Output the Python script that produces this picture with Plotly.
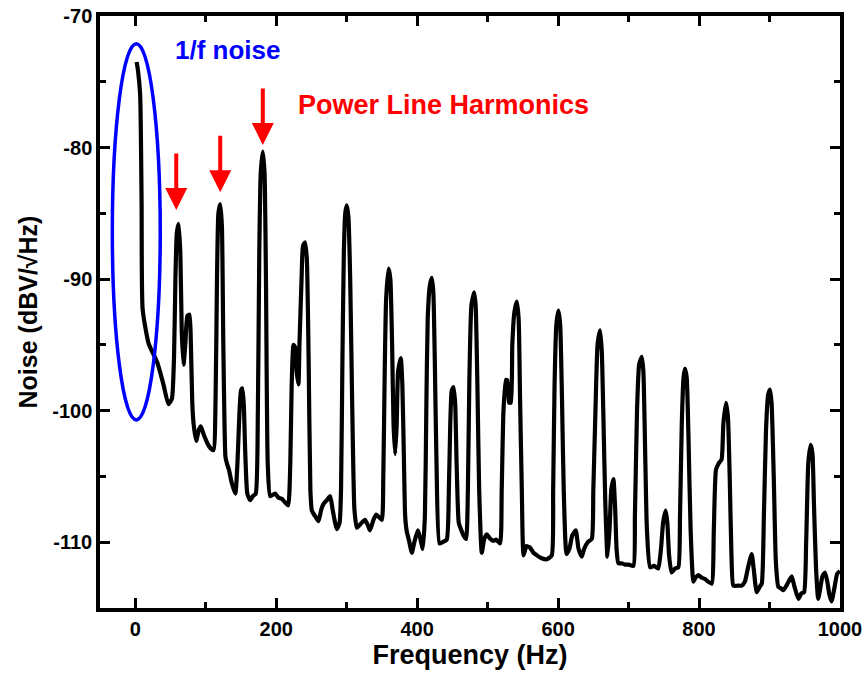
import plotly.graph_objects as go

freq = [2, 4, 7, 9, 10.5, 19, 31, 40, 47, 52, 55, 57, 59, 61.5, 64, 66, 68.5, 71, 74, 77, 79, 81, 83,
        86.5, 90, 93, 97, 101.7, 106, 111, 114, 116, 118, 120.6, 123, 125, 128, 130, 133, 137, 142,
        145, 148, 150, 152, 154, 156, 159, 163, 167, 171, 174, 176, 178, 181, 183.5, 185.5, 188, 191.5,
        198.6, 203, 208, 213, 217, 220, 222, 224.6, 227, 229, 231.6, 233, 236, 238, 241, 243.5, 246,
        248.5, 250.6, 255, 260, 264, 267, 272, 276.6, 280, 286, 290, 292, 294, 296, 298, 300.2, 302.5,
        305, 308, 311, 314.4, 320, 326, 330, 333, 338, 342, 346, 350, 352, 354, 356, 359.5, 362, 364.5,
        366.5, 368.8, 371, 373, 376.8, 379, 381, 383, 385, 389, 392.5, 396, 401, 404, 408, 411, 413,
        415, 418, 420.8, 423, 425, 427.5, 431.7, 436, 442, 445, 447, 449, 451.5, 454, 456, 459, 462,
        466, 469.5, 472, 474, 477, 480.9, 483, 485.5, 488, 491.7, 495, 498.8, 503, 508, 512, 517.7,
        520, 522.5, 526, 528, 530.5, 532.9, 535, 538, 541.4, 544, 546, 548.5, 551, 555, 560, 565, 570,
        576, 584, 591, 593, 595, 597.5, 600.5, 603, 605.5, 608, 612, 616, 620, 625, 629, 633.6, 637,
        642, 647.8, 650, 653, 656, 659.6, 662, 664.5, 667, 670, 673, 675.5, 678.5, 681, 683, 685.5,
        690, 695, 700, 706.9, 709, 712, 715, 718.7, 721, 723.5, 726, 730.5, 736, 742, 746, 749, 752.7,
        755, 757.5, 761, 766, 770.6, 773, 775.5, 778, 780, 782.5, 785, 788, 792, 795, 799, 804, 808.5,
        813, 818, 821, 824, 828, 832, 834.5, 838.3, 841, 843.5, 846, 848.7, 855, 860.6, 865, 870,
        874.7, 877.5, 881.8, 886, 889, 892, 895, 898, 900.7, 903, 906, 909, 912.5, 916, 919.6, 925,
        931.4, 935, 940.9, 945, 949, 952, 955, 958.4, 961, 963, 966, 969, 972, 975, 978.7, 982, 985,
        988, 992, 996, 1000]

noise = [-73.5, -74.2, -76, -84, -92.3, -94.9, -96.3, -98, -99.5, -99.1, -96, -90, -86.5, -85.8, -88,
         -94, -96.5, -95, -92.8, -92.7, -95, -99.5, -101.1, -102.3, -101.5, -101.2, -101.8, -102.4,
         -102.8, -103, -99, -90, -85, -84.3, -86, -95, -103.5, -104, -104.5, -105.5, -106.3, -104, -100,
         -98.5, -98.3, -99.5, -103, -106.3, -106.8, -106.5, -106.3, -100, -88, -82, -80.3, -82, -90,
         -104, -106.5, -106.3, -106.6, -106.7, -107, -107.2, -104, -98, -95.0, -95.2, -97, -98.0, -95,
         -90, -87.5, -87.2, -88.5, -96, -106, -107.6, -108, -108.4, -107.5, -107.1, -106.8, -106.5,
         -107.5, -109, -108.5, -106, -96, -88, -85, -84.4, -85.3, -90, -100, -107.5, -108.9, -108.6,
         -108.3, -108.7, -109.1, -108.3, -107.9, -108.1, -108.3, -105, -97, -91.5, -89.2, -90, -95,
         -101, -103.3, -101, -97, -96.0, -98, -103, -108, -109.1, -110, -110.8, -110, -109.1, -109.6,
         -110.5, -108, -100, -93, -90.5, -89.9, -91, -96, -104, -110.1, -110, -109.8, -106, -101, -98.5,
         -98.2, -99.5, -104, -108.5, -109.0, -109.5, -109.75, -106, -98, -92, -91.0, -92, -98, -106,
         -110.8, -109.8, -109.4, -109.7, -109.9, -109.8, -110.1, -106, -100, -97.65, -97.7, -99.4,
         -99.4, -95, -92.5, -91.7, -93, -99, -106, -111.0, -110.3, -110.4, -110.8, -111, -111.2, -111.3,
         -111.0, -106, -98, -93.5, -92.4, -93.5, -99, -106, -110.9, -110.5, -109.5, -109.1, -110.5,
         -111.1, -110.5, -110.0, -109.75, -106, -100, -95, -93.9, -95.5, -101, -107, -111.1, -109, -106,
         -105.2, -107.5, -110.5, -111.6, -111.6, -111.7, -111.7, -111.8, -108, -100, -96.5, -95.9, -97,
         -103, -109, -111.9, -111.8, -112.0, -110.5, -108.5, -107.6, -108.5, -111, -112.3, -112,
         -111.9, -108, -101, -97.5, -96.8, -97.5, -102, -109, -113.0, -112.7, -112.5, -112.7, -112.8,
         -113, -113.15, -109, -104.5, -104, -103.7, -101, -99.4, -100.5, -105, -111, -113.3, -113.3,
         -113.3, -113, -111.8, -110.9, -112, -113.8, -113.4, -113.15, -108, -101.5, -98.8, -98.4,
         -99.5, -105, -111.5, -113.4, -113.5, -113.65, -113.2, -112.6, -113.3, -114.3, -113.9, -113.8,
         -110, -104, -102.6, -103.3, -107, -112, -114.3, -113.5, -112.6, -112.3, -113, -114, -114.5,
         -113.5, -112.4, -112.2]

x_tickvals = [0, 200, 400, 600, 800, 1000]
x_ticktext = ["0", "200", "400", "600", "800", "1000"]
y_tickvals = [-70, -80, -90, -100, -110]
y_ticktext = ["-70", "-80", "-90", "-100", "-110"]

ellipse_x = [-32.5, 35.5]
ellipse_y = [-100.7, -72.1]
arrow_freq = [58.2, 120.6, 181.0]
arrow_tip = [-84.75, -83.4, -79.8]

x_range = [-50, 1000]
y_range = [-115, -70]

FONT = "Liberation Sans, Arial, sans-serif"

fig = go.Figure()
fig.add_trace(go.Scatter(x=freq, y=noise, mode="lines",
                         line=dict(color="black", width=4.2, shape="spline", smoothing=0.5),
                         showlegend=False, hoverinfo="skip"))

fig.add_shape(type="circle", xref="x", yref="y",
              x0=ellipse_x[0], x1=ellipse_x[1], y0=ellipse_y[0], y1=ellipse_y[1],
              line=dict(color="#0000ff", width=3.5))

for fx, fy in zip(arrow_freq, arrow_tip):
    fig.add_annotation(x=fx, y=fy, xref="x", yref="y", text="", showarrow=True,
                       ax=0, ay=-58, arrowcolor="#ff0000", arrowwidth=4,
                       arrowhead=2, arrowsize=1.1, standoff=0)

fig.add_annotation(x=54, y=-72.6, xref="x", yref="y", text="1/f noise", showarrow=False,
                   xanchor="left", yanchor="middle",
                   font=dict(family=FONT, size=26, color="#0000ff", weight="bold"))
fig.add_annotation(x=228.5, y=-76.8, xref="x", yref="y", text="Power Line Harmonics",
                   showarrow=False, xanchor="left", yanchor="middle",
                   font=dict(family=FONT, size=27, color="#ff0000", weight="bold"))

axis_common = dict(showline=True, linecolor="black", linewidth=3.5, mirror="ticks",
                   ticks="inside", ticklen=10, tickwidth=3, tickcolor="black",
                   showgrid=False, zeroline=False, automargin=False,
                   tickfont=dict(family=FONT, size=20, color="black", weight="bold"))

fig.update_xaxes(range=x_range, tickmode="array", tickvals=x_tickvals, ticktext=x_ticktext,
                 minor=dict(dtick=100, tick0=0, ticks="inside", ticklen=6, tickwidth=3,
                            tickcolor="black"),
                 title=dict(text="Frequency (Hz)", standoff=4,
                            font=dict(family=FONT, size=27, color="black", weight="bold")),
                 **axis_common)
fig.update_yaxes(range=y_range, tickmode="array", tickvals=y_tickvals, ticktext=y_ticktext,
                 minor=dict(dtick=5, tick0=-70, ticks="inside", ticklen=6, tickwidth=3,
                            tickcolor="black"),
                 title=dict(text="Noise (dBV/\u221aHz)", standoff=8,
                            font=dict(family=FONT, size=25, color="black", weight="bold")),
                 **axis_common)

fig.update_layout(width=866, height=677, paper_bgcolor="white", plot_bgcolor="white",
                  margin=dict(l=100, r=26, t=16, b=69), showlegend=False)

fig.write_html("out.html")
